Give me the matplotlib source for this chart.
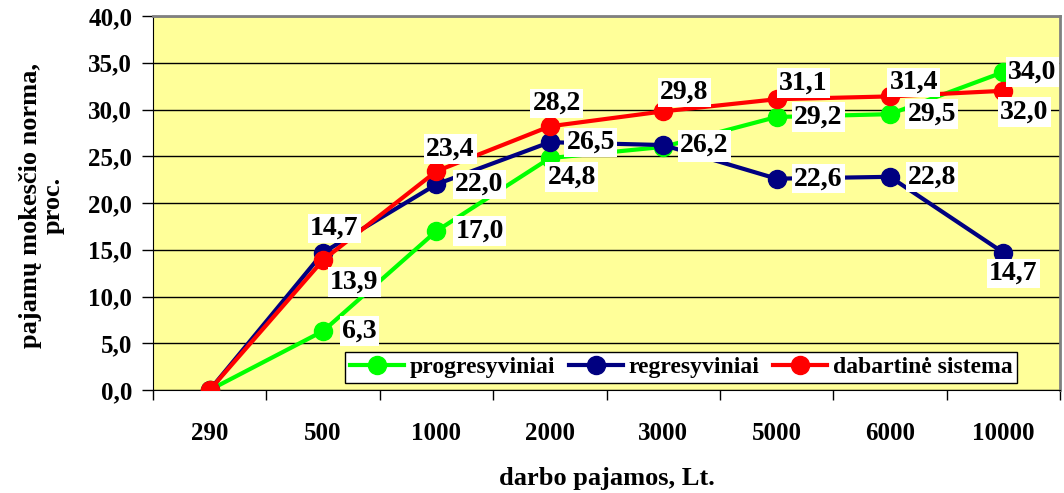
import matplotlib
matplotlib.use('Agg')
import matplotlib.pyplot as plt

# Data
categories = ['290', '500', '1000', '2000', '3000', '5000', '6000', '10000']
progresyviniai = [0.0, 6.3, 17.0, 24.8, 26.0, 29.2, 29.5, 34.0]
regresyviniai = [0.0, 14.7, 22.0, 26.5, 26.2, 22.6, 22.8, 14.7]
dabartine = [0.0, 13.9, 23.4, 28.2, 29.8, 31.1, 31.4, 32.0]

# label offsets (pixels, label centre relative to point)
off_green = [None, (36, 0), (43, 0), (22, -19), (41, 0), (42, 0), (42, 0), (29, 0)]
off_blue = [None, (11, 24), (43, 0), (41, 0), (41, 0), (42, 0), (42, 0), (10, -21)]
off_red = [None, (31, -22), (14, 22), (7, 23), (21, 19), (27, 16), (24, 14), (21, -21)]

plt.rcParams['font.family'] = ['Liberation Serif', 'DejaVu Serif']
plt.rcParams['font.weight'] = 'bold'

fig = plt.figure(figsize=(10.64, 4.93), dpi=100)
ax = fig.add_axes([153 / 1064, 103 / 493, 907 / 1064, 374 / 493])
ax.set_facecolor('#FFFF99')

x = list(range(len(categories)))
series = [
    (progresyviniai, '#00FF00', 'progresyviniai', off_green),
    (regresyviniai, '#000080', 'regresyviniai', off_blue),
    (dabartine, '#FF0000', 'dabartinė sistema', off_red),
]
for vals, col, name, _ in series:
    ax.plot(x, vals, color=col, lw=3, marker='o', ms=13, mec=col, label=name, zorder=3)

for vals, col, name, offs in series:
    for xi, v, o in zip(x, vals, offs):
        if o is None:
            continue
        ax.annotate(f"{v:.1f}".replace('.', ','), (xi, v), xytext=o,
                    textcoords='offset pixels', ha='center', va='center',
                    fontsize=20, fontweight='bold', zorder=5,
                    bbox=dict(boxstyle='square,pad=0.08', fc='white', ec='none'))

ax.set_xlim(-0.5, len(categories) - 0.5)
ax.set_ylim(0, 40)
ax.set_yticks(range(0, 41, 5))
ax.set_yticklabels([f"{t:.1f}".replace('.', ',') for t in range(0, 41, 5)], fontsize=18)
ax.yaxis.grid(True, color='black', lw=1)
ax.set_axisbelow(True)

ax.set_xticks([i - 0.5 for i in range(len(categories) + 1)])
ax.set_xticklabels([])
ax.set_xticks(x, minor=True)
ax.set_xticklabels(categories, minor=True, fontsize=18)
ax.tick_params(axis='x', which='major', direction='out', length=7, width=1)
ax.tick_params(axis='x', which='minor', length=0, pad=23)
ax.tick_params(axis='y', direction='out', length=8, width=1, pad=7)

for s in ['top', 'right']:
    ax.spines[s].set_color('#808080')
    ax.spines[s].set_linewidth(2)
ax.spines['left'].set_color('black')
ax.spines['bottom'].set_color('black')

fig.text(607 / 1064, 1 - 478 / 493, 'darbo pajamos, Lt.', ha='center', va='center',
         fontsize=19, fontweight='bold')
fig.text(42 / 1064, 1 - 205 / 493, 'pajamų mokesčio norma,\nproc.', rotation=90,
         ha='center', va='center', fontsize=19, fontweight='bold', linespacing=1.0)

leg = ax.legend(loc='lower right', bbox_to_anchor=(0.953, 0.019), ncol=3,
                fontsize=17, frameon=True, fancybox=False, framealpha=1,
                edgecolor='black', borderpad=0.2, handlelength=2.3,
                columnspacing=0.55, handletextpad=0.25, borderaxespad=0)
leg.get_frame().set_linewidth(1)
leg.set_zorder(6)

fig.savefig('out.png', dpi=100)
